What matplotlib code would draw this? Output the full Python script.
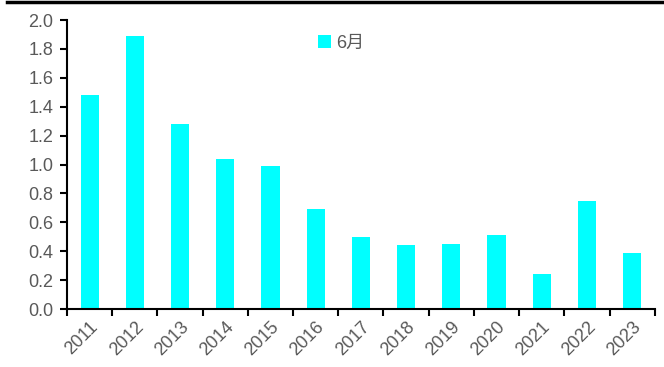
# -*- coding:utf-8 -*-
import numpy as np
import matplotlib.pyplot as plt
from matplotlib.lines import Line2D

plt.rcParams['font.family'] = ['Liberation Sans', 'Noto Sans CJK SC', 'DejaVu Sans']

years = ['2011', '2012', '2013', '2014', '2015', '2016', '2017',
         '2018', '2019', '2020', '2021', '2022', '2023']
june = [1.48, 1.89, 1.28, 1.04, 0.99, 0.69, 0.50,
        0.44, 0.45, 0.51, 0.24, 0.75, 0.39]

barColor = '#00FFFF'
textColor = '#595959'

fig = plt.figure(figsize=(6.64, 3.67), dpi=100)
ax = fig.add_axes([0.101, 0.158, 0.885, 0.7875])

ind = np.arange(len(years))
ax.bar(ind, june, 0.4, color=barColor, label='6月')

ax.set_xlim(-0.5, len(years) - 0.5)
ax.set_ylim(0, 2.0)
ax.set_yticks(np.arange(0, 2.01, 0.2))
ax.set_yticklabels(['%.1f' % v for v in np.arange(0, 2.01, 0.2)])

# boundary ticks on the x axis, labels sit between them
ax.set_xticks(np.arange(-0.5, len(years), 1.0))
ax.set_xticklabels([])
ax.set_xticks(ind, minor=True)
ax.set_xticklabels(years, minor=True, rotation=45, ha='right',
                   rotation_mode='anchor')
ax.tick_params(axis='x', which='major', direction='out', length=5, width=1.5)
ax.tick_params(axis='x', which='minor', length=0, pad=7, labelsize=13,
               labelcolor=textColor)
ax.tick_params(axis='y', direction='out', length=5, width=1.5, labelsize=13,
               labelcolor=textColor, pad=5)

for side in ['top', 'right']:
    ax.spines[side].set_visible(False)
for side in ['left', 'bottom']:
    ax.spines[side].set_linewidth(1.5)

ax.legend(loc='upper left', bbox_to_anchor=(0.40, 1.005), frameon=False,
          handlelength=0.7, handleheight=0.7, handletextpad=0.3,
          fontsize=13, labelcolor=textColor)

fig.add_artist(Line2D([0.01, 1.0], [0.995, 0.995], color='black', lw=2.5,
                      transform=fig.transFigure))

plt.savefig('out.png', dpi=100)
